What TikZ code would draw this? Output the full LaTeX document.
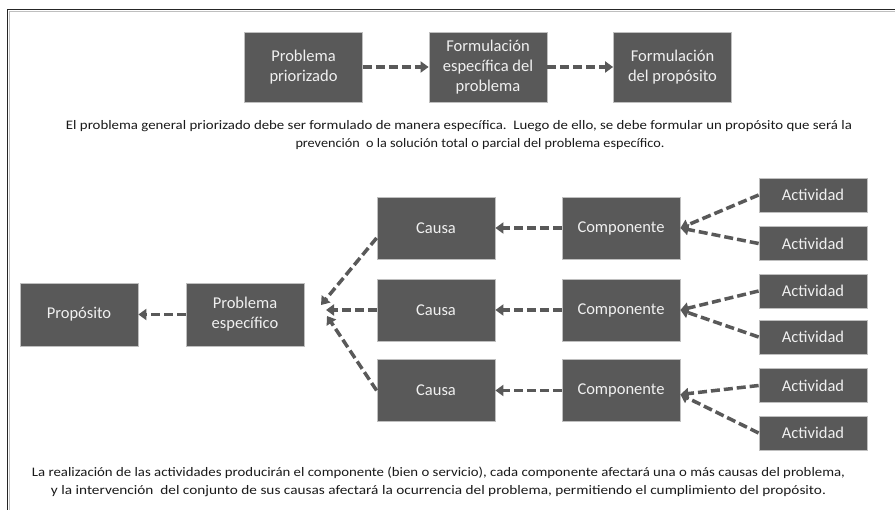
\documentclass[tikz,border=0pt]{standalone}
\usepackage{fontspec}
\usepackage{graphicx}
\setmainfont{Carlito}
\usetikzlibrary{arrows.meta,calc}
\definecolor{boxgray}{HTML}{595959}
\definecolor{boxline}{HTML}{BFBFBF}
\definecolor{boxtext}{HTML}{F0F0F0}
\definecolor{parcol}{HTML}{1A1A1A}
\newcommand{\wline}[2]{\resizebox{#1pt}{\height}{#2}}
\begin{document}
\begin{tikzpicture}[x=1pt,y=-1pt,
  blk/.style={draw=boxline,line width=0.8pt,fill=boxgray,text=boxtext,
    minimum width=118pt,minimum height=62pt,inner sep=2pt,align=center,
    font=\fontsize{16.5}{20}\selectfont},
  act/.style={blk,minimum width=108pt,minimum height=34pt},
  conn/.style={draw=boxgray,line width=3.5pt,dash pattern=on 9pt off 4pt,
    -{Triangle[length=8pt,width=11pt]}},
  para/.style={text=parcol,align=center,inner sep=0pt,
    font=\fontsize{13}{18}\selectfont}]
\useasboundingbox (0,0) rectangle (895,510);
\fill[white] (0,0) rectangle (895,510);
% frame
\draw[black!85,line width=1.6pt] (7.5,510) -- (7.5,9.5) -- (895,9.5);
\draw[black!25,line width=1pt] (9.5,510) -- (9.5,11.5) -- (895,11.5);
% top row
\node[blk,minimum height=70pt] (pp) at (303.5,67) {Problema\\priorizado};
\node[blk,minimum height=70pt] (fe) at (488,67) {Formulación\\específica del\\problema};
\node[blk,minimum height=70pt] (fp) at (672.5,67) {Formulación\\del propósito};
\draw[conn] (pp) -- (fe);
\draw[conn] (fe) -- (fp);
\node[para] (t1a) at (459,126) {\wline{786}{El problema general priorizado debe ser formulado de manera específica.\ \ Luego de ello, se debe formular un propósito que será la}};
\node[para] (t1b) at (480,144) {\wline{369}{prevención\ \ o la solución total o parcial del problema específico.}};
% bottom
\node[blk,minimum height=63pt] (prop) at (79,314.5) {Propósito};
\node[blk,minimum height=63pt] (pe) at (245,314.5) {Problema\\específico};
\node[blk] (c1) at (436,228) {Causa};
\node[blk] (c2) at (436,310) {Causa};
\node[blk] (c3) at (436,390.5) {Causa};
\node[blk] (k1) at (621,228) {Componente};
\node[blk] (k2) at (621,310) {Componente};
\node[blk] (k3) at (621,390.5) {Componente};
\node[act] (a1) at (813,195) {Actividad};
\node[act] (a2) at (813,243.5) {Actividad};
\node[act] (a3) at (813,291) {Actividad};
\node[act] (a4) at (813,337) {Actividad};
\node[act] (a5) at (813,385.5) {Actividad};
\node[act] (a6) at (813,433) {Actividad};
\coordinate (e1) at (321,305);
\coordinate (e2) at (326,310);
\coordinate (e3) at (327,316);
\draw[conn] (pe) -- (prop);
\draw[conn] ([yshift=-10pt]c1.west) -- (e1);
\draw[conn] (c2.west) -- (e2);
\draw[conn] (c3.west) -- (e3);
\draw[conn] (k1) -- (c1);
\draw[conn] (k2) -- (c2);
\draw[conn] (k3) -- (c3);
\draw[conn] (a1.west) -- (k1.east);
\draw[conn] (a2.west) -- (k1.east);
\draw[conn] (a3.west) -- (k2.east);
\draw[conn] (a4.west) -- (k2.east);
\draw[conn] (a5.west) -- ([yshift=-4pt]k3.east);
\draw[conn] (a6.west) -- ([yshift=-4pt]k3.east);
\node[para] (t2) at (438.5,482) {\wline{813}{La realización de las actividades producirán el componente (bien o servicio), cada componente afectará una o más causas del problema,}\\\wline{775}{y la intervención\ \ del conjunto de sus causas afectará la ocurrencia del problema, permitiendo el cumplimiento del propósito.}};
\end{tikzpicture}
\end{document}
